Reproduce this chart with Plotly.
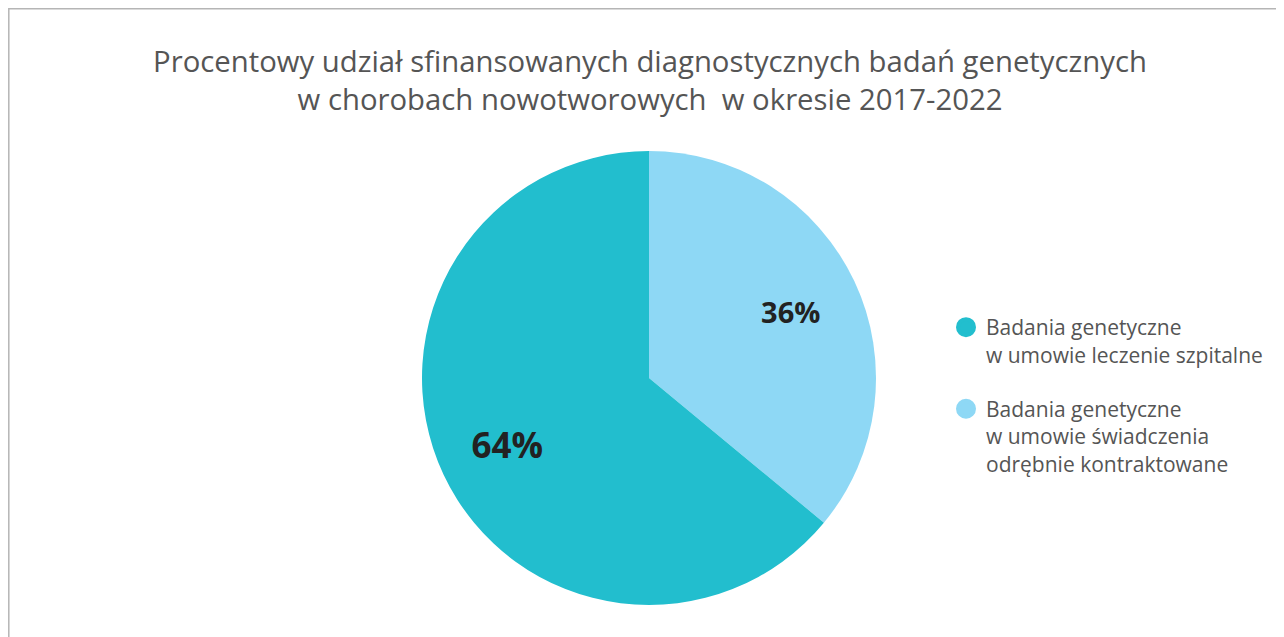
"""Pie chart: share of funded diagnostic genetic tests in oncology, 2017-2022."""

import plotly.graph_objects as go

labels = [
    "Badania genetyczne<br>w umowie leczenie szpitalne",
    "Badania genetyczne<br>w umowie świadczenia<br>odrębnie kontraktowane",
]
values = [64, 36]
colors = ["#22BECE", "#8ED8F5"]
title_text = (
    "Procentowy udział sfinansowanych diagnostycznych badań genetycznych<br>"
    "w chorobach nowotworowych  w okresie 2017-2022"
)

W, H = 1284, 637
FONT = "Open Sans, Noto Sans, sans-serif"
PIE_DOMAIN = {"x": [414 / W, 868 / W], "y": [1 - 597 / H, 1 - 143 / H]}

fig = go.Figure()

# pie drawn from 12 o'clock clockwise, so the second category comes first
fig.add_trace(
    go.Pie(
        labels=labels[::-1],
        values=values[::-1],
        sort=False,
        direction="clockwise",
        rotation=0,
        marker={"colors": colors[::-1], "line": {"width": 0}},
        textinfo="none",
        showlegend=False,
        hoverinfo="label+percent",
        domain=PIE_DOMAIN,
    )
)

# transparent ring on top only to push the % labels outwards
fig.add_trace(
    go.Pie(
        labels=labels[::-1],
        values=values[::-1],
        sort=False,
        direction="clockwise",
        rotation=0,
        hole=0.38,
        marker={"colors": ["rgba(0,0,0,0)"] * len(values), "line": {"width": 0}},
        texttemplate="%{percent:.0%}",
        textposition="inside",
        insidetextorientation="horizontal",
        textfont={"family": FONT, "size": [29, 35], "color": "#222222", "weight": "bold"},
        showlegend=False,
        hoverinfo="skip",
        domain=PIE_DOMAIN,
    )
)

# legend entries with round markers
for i, (name, col) in enumerate(zip(labels, colors)):
    fig.add_trace(
        go.Scatter(
            x=[None],
            y=[None],
            mode="markers",
            name=name,
            legendgroup=f"g{i}",
            marker={"symbol": "circle", "size": 16, "color": col, "line": {"color": col, "width": 4}},
            showlegend=True,
        )
    )

fig.update_layout(
    width=W,
    height=H,
    margin={"l": 0, "r": 0, "t": 0, "b": 0, "autoexpand": False},
    paper_bgcolor="white",
    plot_bgcolor="white",
    font={"family": FONT, "color": "#555555"},
    title={
        "text": title_text,
        "x": 0.5,
        "xanchor": "center",
        "xref": "container",
        "y": 1 - 64 / H,
        "yanchor": "top",
        "yref": "container",
        "font": {"family": FONT, "size": 29.3, "color": "#555555"},
    },
    xaxis={"visible": False},
    yaxis={"visible": False},
    legend={
        "xref": "paper",
        "yref": "paper",
        "x": 938 / W,
        "y": 1 - 299 / H,
        "xanchor": "left",
        "yanchor": "top",
        "valign": "top",
        "font": {"family": FONT, "size": 21, "color": "#555555"},
        "tracegroupgap": 24,
        "bgcolor": "rgba(0,0,0,0)",
    },
    shapes=[
        {
            "type": "rect",
            "xref": "paper",
            "yref": "paper",
            "x0": 0.8 / W,
            "x1": 1.02,
            "y0": -0.02,
            "y1": 1 - 0.8 / H,
            "line": {"color": "#b5b5b5", "width": 1.5},
            "fillcolor": "rgba(0,0,0,0)",
            "layer": "below",
        }
    ],
)

fig.write_html("out.html")
